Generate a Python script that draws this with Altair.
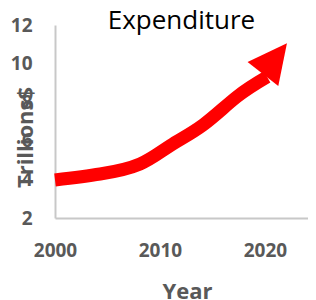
import altair as alt
import pandas as pd

# Line data
years = [2000, 2004.3, 2008.1, 2011.0, 2014.1, 2017.3, 2020.2]
values = [3.97, 4.28, 4.80, 5.76, 6.82, 8.27, 9.31]

# Arrow head position / direction
head_year = [2020.95]
head_value = [10.26]
head_angle = [38]

x_ticks = [2000, 2010, 2020]
y_ticks = [2, 4, 6, 8, 10, 12]

line_df = pd.DataFrame({"Year": years, "Value": values})
head_df = pd.DataFrame({"Year": head_year, "Value": head_value, "angle": head_angle})

gray = "#595959"
axis_gray = "#C8C8C8"

x_enc = alt.X(
    "Year:Q",
    scale=alt.Scale(domain=[2000, 2024.1], nice=False, zero=False),
    axis=alt.Axis(
        values=x_ticks, tickCount=10, format="d", title="Year", grid=False, ticks=False, tickSize=0,
        domainColor=axis_gray, domainWidth=2, labelFlush=False, labelOverlap=False,
        labelFont="Open Sans", labelFontWeight="bold", labelFontSize=19, labelColor=gray,
        labelPadding=23,
        titleFont="Open Sans", titleFontWeight="bold", titleFontSize=22, titleColor=gray,
        titleX=132, titleY=73, titleBaseline="middle", titleAnchor="start", titleAlign="center",
    ),
)
y_enc = alt.Y(
    "Value:Q",
    scale=alt.Scale(domain=[2, 12], nice=False, zero=False),
    axis=alt.Axis(
        values=y_ticks, tickCount=12, title="Trillions$", grid=False, ticks=False, tickSize=0,
        domainColor=axis_gray, domainWidth=2, labelFlush=False, labelOverlap=False,
        labelFont="Open Sans", labelFontWeight="bold", labelFontSize=19, labelColor=gray,
        labelPadding=23,
        titleFont="Open Sans", titleFontWeight="bold", titleFontSize=22, titleColor=gray,
        titleX=-30, titleY=112, titleBaseline="middle", titleAlign="center", titleAngle=270,
    ),
)

line = alt.Chart(line_df).mark_line(
    color="#FF0000", strokeWidth=13, interpolate="natural", strokeCap="butt"
).encode(x=x_enc, y=y_enc)

head = alt.Chart(head_df).mark_point(
    shape="M0,-1L-1,1L1,1Z", size=1521, filled=True, color="#FF0000", opacity=1
).encode(x="Year:Q", y="Value:Q", angle=alt.Angle("angle:Q", scale=None))

chart = (
    alt.layer(line, head)
    .properties(
        width=253,
        height=193,
        autosize=alt.AutoSizeParams(type="none"),
        padding={"left": 47, "top": 17, "right": 0, "bottom": 82},
        title=alt.TitleParams(
            "Expenditure", font="Open Sans", fontSize=26, fontWeight="normal",
            color="#000000", anchor="middle", frame="group", offset=-6, dy=33,
            baseline="alphabetic",
        ),
    )
    .configure_view(stroke=None)
)

chart.save("out.html", embed_options={"renderer": "svg", "actions": False})
